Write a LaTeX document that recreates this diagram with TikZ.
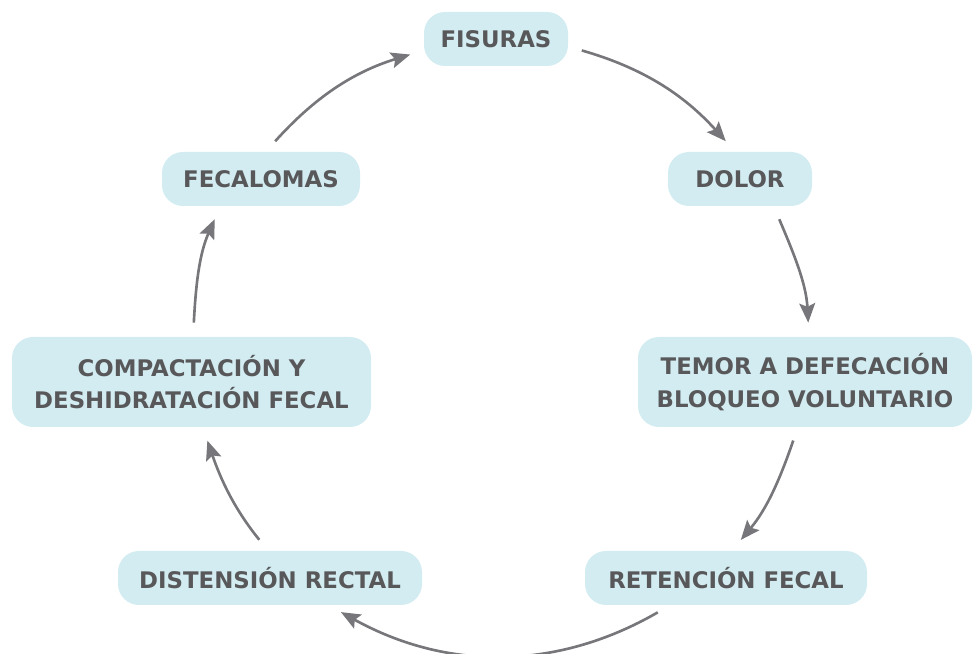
\documentclass[tikz,border=0pt]{standalone}
\usepackage{fontspec}
\setmainfont{DejaVu Sans}
\usetikzlibrary{arrows.meta}
\definecolor{boxblue}{HTML}{D2ECF1}
\definecolor{textgray}{HTML}{58585A}
\definecolor{arrowgray}{HTML}{77777B}
\begin{document}
\begin{tikzpicture}
\tikzstyle{box}=[fill=boxblue,rounded corners=0.42cm,text=textgray,font=\fontsize{13}{18.5}\selectfont\bfseries,align=center,inner sep=0pt,minimum height=1.08cm]
\tikzstyle{arr}=[draw=arrowgray,line width=1.5pt,-{Stealth[length=11pt,width=9pt,inset=2pt]},shorten <=0.28cm,shorten >=0.28cm]
\useasboundingbox (0,0) rectangle (19.5,13.08);
\node[box,minimum width=2.88cm] at (9.92,12.30) (fis) {FISURAS};
\node[box,minimum width=2.88cm] at (14.80,9.50) (dol) {DOLOR};
\node[box,minimum width=6.68cm,minimum height=1.8cm] at (16.10,5.44) (tem) {TEMOR A DEFECACIÓN\\BLOQUEO VOLUNTARIO};
\node[box,minimum width=5.64cm] at (14.52,1.52) (ret) {RETENCIÓN FECAL};
\node[box,minimum width=6.08cm] at (5.40,1.52) (dis) {DISTENSIÓN RECTAL};
\node[box,minimum width=7.18cm,minimum height=1.8cm] at (3.83,5.44) (com) {COMPACTACIÓN Y\\DESHIDRATACIÓN FECAL};
\node[box,minimum width=3.96cm] at (5.22,9.50) (fec) {FECALOMAS};
% cycle
\draw[arr] (fis.-6) to[out=-16,in=132] (dol.100);
\draw[arr] (dol.-39) to[out=-67,in=93] (tem.85);
\draw[arr] (tem.-99) to[out=-109,in=50] (ret.78);
\draw[arr] (ret.-154) to[out=-150,in=-29] (dis.-25);
\draw[arr] (dis.94) to[out=129,in=-71] (com.-76);
\draw[arr] (com.88) to[out=87,in=-114] (fec.-146);
\draw[arr] (fec.80) to[out=48,in=-163] (fis.189);
\end{tikzpicture}
\end{document}
